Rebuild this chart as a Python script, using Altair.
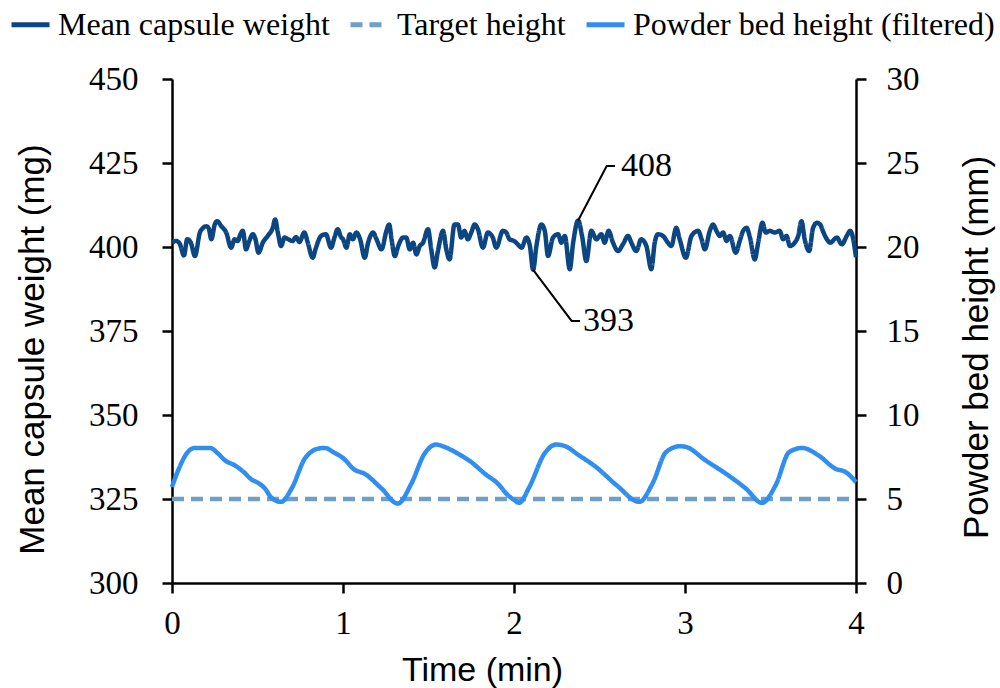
import altair as alt
import pandas as pd

# ---------------- data ----------------
weight_t = [0.0, 0.025, 0.045, 0.07, 0.089, 0.11, 0.134, 0.163, 0.182, 0.20, 0.215, 0.23, 0.25, 0.264,
            0.288, 0.317, 0.346, 0.366, 0.385, 0.40, 0.414, 0.433, 0.45, 0.473, 0.487, 0.506, 0.531,
            0.56, 0.589, 0.603, 0.619, 0.638, 0.658, 0.68, 0.706, 0.725, 0.745, 0.774, 0.793, 0.823,
            0.84, 0.872, 0.90, 0.93, 0.95, 0.969, 0.988, 1.0,
            1.02, 1.04, 1.058, 1.078, 1.10, 1.127, 1.147, 1.176, 1.196, 1.225, 1.254, 1.27, 1.284,
            1.303, 1.323, 1.351, 1.37, 1.39, 1.41, 1.429, 1.449, 1.468, 1.497, 1.516, 1.536, 1.555,
            1.585, 1.604, 1.623, 1.652, 1.672, 1.691, 1.71, 1.73, 1.75, 1.77, 1.789, 1.818, 1.847,
            1.876, 1.896, 1.935, 1.955, 1.974, 2.0, 2.022,
            2.044, 2.073, 2.093, 2.112, 2.131, 2.16, 2.18, 2.199, 2.228, 2.258, 2.277, 2.297, 2.326,
            2.346, 2.375, 2.398, 2.423, 2.452, 2.482, 2.511, 2.53, 2.553, 2.579, 2.608, 2.637, 2.667,
            2.686, 2.715, 2.744, 2.774, 2.803, 2.823, 2.842, 2.871, 2.90, 2.92, 2.949, 2.969, 3.005,
            3.038, 3.077, 3.097, 3.116, 3.145, 3.164, 3.184, 3.204, 3.223, 3.243, 3.262, 3.297, 3.32,
            3.34, 3.36, 3.38, 3.408, 3.428, 3.453, 3.472, 3.496, 3.525, 3.554, 3.574, 3.594, 3.613,
            3.642, 3.662, 3.681, 3.70, 3.726, 3.749, 3.772, 3.79, 3.81, 3.83, 3.849, 3.888, 3.917,
            3.946, 3.966, 3.982, 3.995, 4.0]
weight_mg = [401.3, 401.8, 401.0, 397.5, 402.3, 401.3, 397.3, 404.3, 405.7, 406.2, 405.5, 402.3, 406.7, 407.7,
             406.2, 404.3, 399.8, 402.3, 401.8, 403.8, 404.8, 399.3, 401.5, 403.8, 402.5, 398.3, 401.3,
             403.3, 405.7, 408.2, 404.3, 400.3, 402.8, 402.3, 401.8, 403.0, 401.5, 404.3, 401.5, 396.8,
             399.5, 403.3, 403.8, 399.8, 402.8, 405.3, 403.0, 402.3,
             399.8, 403.8, 402.3, 404.3, 402.3, 396.8, 401.3, 404.3, 402.3, 399.3, 404.8, 406.7, 402.3,
             397.3, 400.3, 402.8, 402.8, 399.3, 401.3, 397.8, 400.3, 401.3, 405.3, 399.3, 393.9, 398.8,
             404.8, 399.3, 396.3, 406.7, 406.7, 402.8, 404.8, 402.3, 404.3, 406.7, 405.3, 399.8, 404.3,
             402.8, 399.8, 404.8, 404.3, 402.3, 401.8, 400.8,
             399.8, 402.8, 400.3, 393.2, 400.3, 406.7, 404.8, 397.3, 402.8, 403.8, 401.3, 403.3, 393.4,
             401.3, 407.9, 403.3, 395.8, 404.8, 402.3, 403.8, 401.3, 404.8, 401.3, 398.8, 400.8, 403.3,
             401.3, 398.8, 402.3, 400.3, 393.4, 401.3, 403.8, 403.3, 401.3, 400.3, 405.7, 402.3, 396.8,
             403.3, 404.8, 402.3, 399.3, 404.8, 406.7, 404.8, 403.3, 404.3, 401.8, 403.3, 398.3, 401.8,
             404.8, 405.7, 402.8, 396.3, 401.3, 407.2, 404.3, 404.8, 404.3, 404.8, 402.3, 403.3, 400.3,
             401.3, 403.3, 407.7, 402.3, 398.8, 405.7, 407.2, 406.7, 404.3, 402.3, 401.3, 402.8, 400.8,
             403.3, 404.8, 402.8, 398.8, 397.0]

powder_t = [0.0, 0.04, 0.085, 0.134, 0.222, 0.27, 0.31, 0.368, 0.42, 0.465, 0.505, 0.543, 0.582, 0.637,
            0.70, 0.777, 0.82, 0.855, 0.894, 0.942, 1.01, 1.06, 1.13, 1.225, 1.32, 1.40, 1.477, 1.545,
            1.594, 1.672, 1.75, 1.83, 1.905, 1.964, 2.003, 2.03, 2.09, 2.178, 2.246, 2.295, 2.38, 2.48,
            2.60, 2.733, 2.81, 2.89, 2.97, 3.005, 3.12, 3.24, 3.355, 3.45, 3.53, 3.61, 3.686, 3.78,
            3.88, 3.94, 4.0]
powder_mm = [5.72, 6.8, 7.7, 8.04, 8.04, 7.7, 7.3, 7.0, 6.6, 6.16, 5.95, 5.63, 5.07, 4.83,
             5.63, 7.41, 7.85, 8.0, 8.04, 7.8, 7.35, 6.8, 6.48, 5.63, 4.73, 5.92, 7.7, 8.24,
             8.1, 7.7, 7.2, 6.5, 5.92, 5.23, 4.93, 4.77, 5.72, 7.7, 8.24, 8.16, 7.6, 6.9,
             5.82, 4.83, 5.92, 7.8, 8.14, 8.1, 7.3, 6.5, 5.63, 4.77, 5.82, 7.8, 8.04, 7.6,
             6.8, 6.6, 6.0]

target_t = [0.0, 4.0]
target_mm = [5.0, 5.0]

series_names = ["Mean capsule weight", "Target height", "Powder bed height (filtered)"]
series_colors = ["#0b4682", "#6f9ec6", "#2f8ef0"]

# annotation leader lines (data coordinates: time, mg)
lead_id = ["a", "a", "a", "b", "b", "b"]
lead_t = [2.375, 2.542, 2.591, 2.112, 2.337, 2.386]
lead_mg = [407.9, 424.1, 424.1, 393.2, 378.0, 378.0]
label_text = ["408", "393"]
label_t = [2.626, 2.404]
label_mg = [424.1, 378.0]

x_ticks = [0, 1, 2, 3, 4]
left_ticks = [300, 325, 350, 375, 400, 425, 450]
right_ticks = [0, 5, 10, 15, 20, 25, 30]

# ---------------- frames ----------------
df_w = pd.DataFrame({"t": weight_t, "mg": weight_mg, "series": series_names[0]})
df_tg = pd.DataFrame({"t": target_t, "mm": target_mm, "series": series_names[1]})
df_p = pd.DataFrame({"t": powder_t, "mm": powder_mm, "series": series_names[2]})
df_lead = pd.DataFrame({"id": lead_id, "t": lead_t, "mg": lead_mg, "order": list(range(len(lead_t)))})
df_lab = pd.DataFrame({"label": label_text, "t": label_t, "mg": label_mg})

SERIF = "Liberation Serif, Times New Roman, serif"
SANS = "Liberation Sans, Arial, sans-serif"

x_enc = alt.X("t:Q", scale=alt.Scale(domain=[0, 4], nice=False, zero=False),
              axis=alt.Axis(values=x_ticks, title="Time (min)", grid=False, labelFlush=False,
                            tickSize=10, tickWidth=2.5, tickColor="black",
                            domainColor="black", domainWidth=2.5,
                            labelFont=SERIF, labelFontSize=33, labelColor="black", labelPadding=14,
                            titleFont=SANS, titleFontSize=34, titleFontWeight="normal", titleColor="black",
                            titleX=310, titleY=97, titleBaseline="alphabetic", titleAnchor="middle",
                            titleAlign="center"))

y_left = alt.Y("mg:Q", scale=alt.Scale(domain=[300, 450], nice=False, zero=False),
               axis=alt.Axis(values=left_ticks, title="Mean capsule weight (mg)", grid=False, orient="left",
                             labelFlush=False,
                             tickSize=10, tickWidth=2.5, tickColor="black",
                             domainColor="black", domainWidth=2.5,
                             labelFont=SERIF, labelFontSize=33, labelColor="black", labelPadding=24,
                             titleFont=SANS, titleFontSize=35, titleFontWeight="normal", titleColor="black",
                             titleAngle=-90, titleX=-129, titleY=270, titleAlign="center",
                             titleBaseline="alphabetic"))

y_right = alt.Y("mm:Q", scale=alt.Scale(domain=[0, 30], nice=False, zero=False),
                axis=alt.Axis(values=right_ticks, title="Powder bed height (mm)", grid=False, orient="right",
                              labelFlush=False,
                              tickSize=10, tickWidth=2.5, tickColor="black",
                              domainColor="black", domainWidth=2.5,
                              labelFont=SERIF, labelFontSize=33, labelColor="black", labelPadding=20,
                              titleFont=SANS, titleFontSize=35, titleFontWeight="normal", titleColor="black",
                              titleAngle=-90, titleX=131, titleY=268, titleAlign="center",
                              titleBaseline="alphabetic"))

legend = alt.Legend(title=None, orient="none", legendX=-163, legendY=-76, direction="horizontal",
                    columns=3, symbolType="stroke", symbolSize=1444, symbolStrokeWidth=5,
                    labelFont=SERIF, labelFontSize=32, labelColor="black", labelOffset=6,
                    columnPadding=10, labelLimit=0, padding=0)

color_enc = alt.Color("series:N", scale=alt.Scale(domain=series_names, range=series_colors), legend=legend)
dash_enc = alt.StrokeDash("series:N", scale=alt.Scale(domain=series_names, range=[[1, 0], [12, 7], [1, 0]]),
                          legend=legend)

weight = alt.Chart(df_w).mark_line(strokeWidth=4.5, interpolate="monotone").encode(
    x=x_enc, y=y_left, color=color_enc, strokeDash=dash_enc)
leads = alt.Chart(df_lead).mark_line(color="black", strokeWidth=2).encode(
    x=x_enc, y=y_left, detail="id:N", order="order:Q")
labels = alt.Chart(df_lab).mark_text(font=SERIF, fontSize=34, color="black", align="left",
                                     baseline="middle").encode(x=x_enc, y=y_left, text="label:N")
left = alt.layer(weight, leads, labels)

target = alt.Chart(df_tg).mark_line(strokeWidth=4.5).encode(
    x=x_enc, y=y_right, color=color_enc, strokeDash=dash_enc)
powder = alt.Chart(df_p).mark_line(strokeWidth=4.5, interpolate="monotone").encode(
    x=x_enc, y=y_right, color=color_enc, strokeDash=dash_enc)
right = alt.layer(target, powder)

chart = alt.layer(left, right).resolve_scale(y="independent").properties(
    width=684, height=504,
    autosize=alt.AutoSizeParams(type="none"),
    padding={"left": 172, "top": 79, "right": 144, "bottom": 105},
    background="white",
).configure_view(stroke=None)

chart.save("out.html", embed_options={"renderer": "svg", "actions": False})
